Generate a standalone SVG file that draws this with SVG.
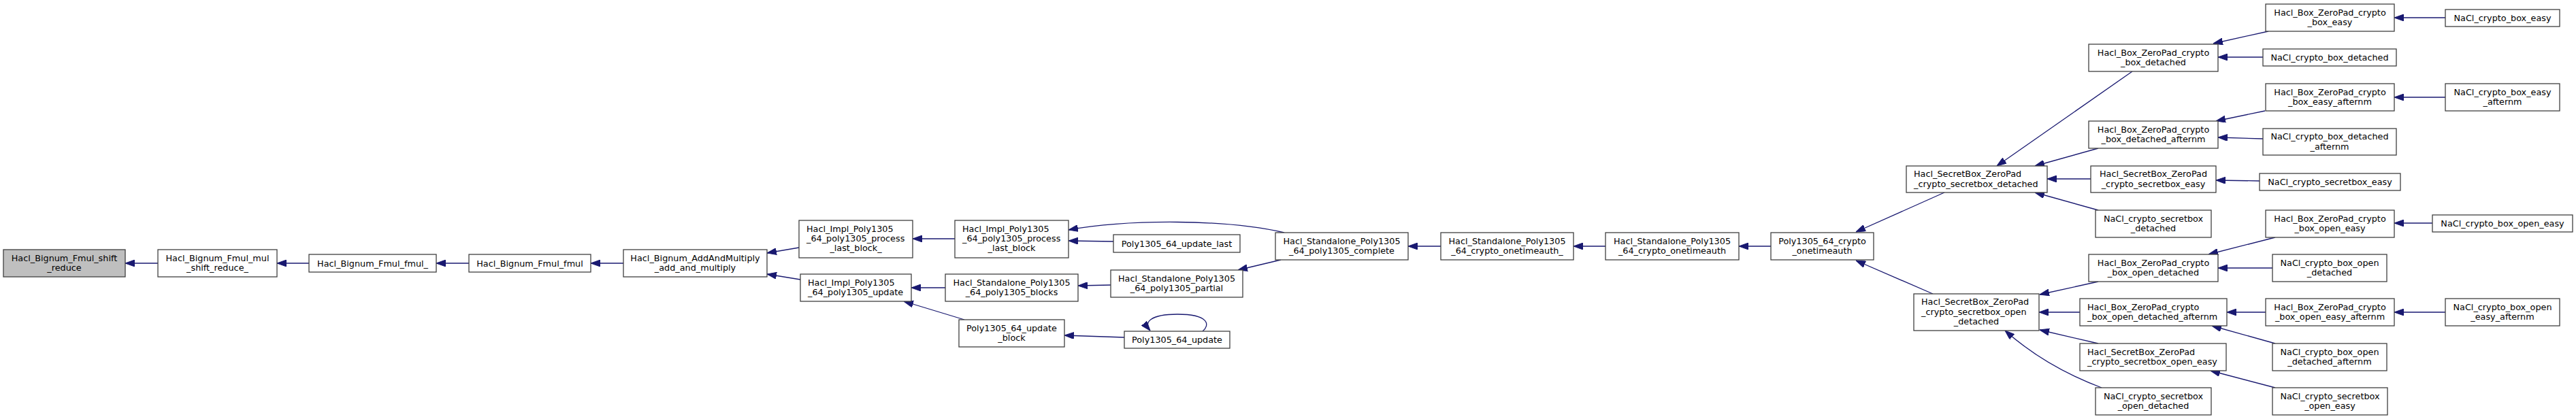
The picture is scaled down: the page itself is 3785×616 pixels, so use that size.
<svg xmlns="http://www.w3.org/2000/svg" width="3785" height="616" viewBox="0 0 3785 616">
<style>
.n rect{fill:#fff;stroke:#404040;stroke-width:1.3}
.root rect{fill:#bfbfbf}
text{font-family:"DejaVu Sans","Noto Sans",sans-serif;font-size:12.8px;fill:#000;text-anchor:middle}
text.l{text-anchor:start}
.e path{fill:none;stroke:#191970;stroke-width:1.3;marker-end:url(#a)}
</style>
<defs>
<marker id="a" markerUnits="userSpaceOnUse" viewBox="0 -5 14 10" refX="14" refY="0" markerWidth="14" markerHeight="10" orient="auto"><path d="M0,-5L14,0L0,5z" fill="#191970" stroke="#191970" stroke-width="1"/></marker>
</defs>
<rect width="3785" height="616" fill="#fff"/>
<g id="edges" class="e">
<path d="M232,387L184,387"/>
<path d="M454,387L407,387"/>
<path d="M689,387L641,387"/>
<path d="M916,387L868,387"/>
<path d="M1174,364L1127,372"/>
<path d="M1176,411L1127,403"/>
<path d="M1403,351L1341,351"/>
<path d="M1389,423L1339,423"/>
<path d="M1636,355L1570,354"/>
<path d="M1632,419L1584,420"/>
<path d="M1417,470L1328,443"/>
<path d="M1652,496L1564,493"/>
<path d="M1767,487C1778,478 1777,462 1730,462C1690,462 1680,474 1690,486"/>
<path d="M1887,342C1800,322 1660,322 1570,338"/>
<path d="M1882,382L1819,397"/>
<path d="M2117,362L2069,362"/>
<path d="M2359,362L2312,362"/>
<path d="M2602,362L2555,362"/>
<path d="M2857,283L2727,341"/>
<path d="M2840,432L2727,383"/>
<path d="M3133,105L2934,244"/>
<path d="M3083,218L2990,244"/>
<path d="M3072,263L3008,263"/>
<path d="M3083,309L2990,283"/>
<path d="M3083,414L2997,433"/>
<path d="M3056,459L2996,459"/>
<path d="M3083,505L2997,485"/>
<path d="M3088,570C3040,552 2990,525 2946,486"/>
<path d="M3333,46L3252,64"/>
<path d="M3325,84L3259,84"/>
<path d="M3328,163L3256,178"/>
<path d="M3325,204L3259,202"/>
<path d="M3320,266L3256,265"/>
<path d="M3343,349L3245,374"/>
<path d="M3339,394L3259,394"/>
<path d="M3329,459L3272,459"/>
<path d="M3343,505L3250,479"/>
<path d="M3343,570L3248,545"/>
<path d="M3593,26L3518,26"/>
<path d="M3593,143L3518,143"/>
<path d="M3574,328L3518,328"/>
<path d="M3593,459L3518,459"/>
</g>
<g id="n1" class="n root"><rect x="5" y="367" width="179" height="40"/><text x="94.5" y="383.7">Hacl_Bignum_Fmul_shift</text><text x="94.5" y="398">_reduce</text></g>
<g id="n2" class="n"><rect x="232" y="367" width="175" height="40"/><text x="319.5" y="383.7">Hacl_Bignum_Fmul_mul</text><text x="319.5" y="398">_shift_reduce_</text></g>
<g id="n3" class="n"><rect x="454" y="374" width="187" height="26"/><text x="547.5" y="391.7">Hacl_Bignum_Fmul_fmul_</text></g>
<g id="n4" class="n"><rect x="689" y="374" width="179" height="26"/><text x="778.5" y="391.7">Hacl_Bignum_Fmul_fmul</text></g>
<g id="n5" class="n"><rect x="916" y="367" width="211" height="40"/><text x="1021.5" y="383.7">Hacl_Bignum_AddAndMultiply</text><text x="1021.5" y="398">_add_and_multiply</text></g>
<g id="n6" class="n"><rect x="1174" y="324" width="167" height="55"/><text class="l" x="1185" y="340.7">Hacl_Impl_Poly1305</text><text class="l" x="1185" y="355">_64_poly1305_process</text><text x="1257.5" y="369">_last_block_</text></g>
<g id="n7" class="n"><rect x="1176" y="403" width="163" height="40"/><text class="l" x="1187" y="419.7">Hacl_Impl_Poly1305</text><text class="l" x="1187" y="434">_64_poly1305_update</text></g>
<g id="n8" class="n"><rect x="1403" y="324" width="167" height="55"/><text class="l" x="1414" y="340.7">Hacl_Impl_Poly1305</text><text class="l" x="1414" y="355">_64_poly1305_process</text><text x="1486.5" y="369">_last_block</text></g>
<g id="n9" class="n"><rect x="1636" y="345" width="186" height="26"/><text x="1729" y="362.7">Poly1305_64_update_last</text></g>
<g id="n10" class="n"><rect x="1389" y="403" width="195" height="40"/><text x="1486.5" y="419.7">Hacl_Standalone_Poly1305</text><text x="1486.5" y="434">_64_poly1305_blocks</text></g>
<g id="n11" class="n"><rect x="1632" y="397" width="194" height="40"/><text x="1729" y="413.7">Hacl_Standalone_Poly1305</text><text x="1729" y="428">_64_poly1305_partial</text></g>
<g id="n12" class="n"><rect x="1409" y="470" width="155" height="40"/><text x="1486.5" y="486.7">Poly1305_64_update</text><text x="1486.5" y="501">_block</text></g>
<g id="n13" class="n"><rect x="1652" y="487" width="155" height="25"/><text x="1729.5" y="504.2">Poly1305_64_update</text></g>
<g id="n14" class="n"><rect x="1874" y="342" width="195" height="40"/><text x="1971.5" y="358.7">Hacl_Standalone_Poly1305</text><text x="1971.5" y="373">_64_poly1305_complete</text></g>
<g id="n15" class="n"><rect x="2117" y="342" width="195" height="40"/><text x="2214.5" y="358.7">Hacl_Standalone_Poly1305</text><text x="2214.5" y="373">_64_crypto_onetimeauth_</text></g>
<g id="n16" class="n"><rect x="2359" y="342" width="196" height="40"/><text x="2457" y="358.7">Hacl_Standalone_Poly1305</text><text x="2457" y="373">_64_crypto_onetimeauth</text></g>
<g id="n17" class="n"><rect x="2602" y="342" width="151" height="40"/><text x="2677.5" y="358.7">Poly1305_64_crypto</text><text x="2677.5" y="373">_onetimeauth</text></g>
<g id="n18" class="n"><rect x="2801" y="244" width="207" height="39"/><text class="l" x="2812" y="260.2">Hacl_SecretBox_ZeroPad</text><text class="l" x="2812" y="274.5">_crypto_secretbox_detached</text></g>
<g id="n19" class="n"><rect x="2812" y="432" width="184" height="54"/><text class="l" x="2823" y="448.2">Hacl_SecretBox_ZeroPad</text><text class="l" x="2823" y="462.5">_crypto_secretbox_open</text><text x="2904" y="476.5">_detached</text></g>
<g id="n20" class="n"><rect x="3069" y="65" width="190" height="40"/><text x="3164" y="81.7">Hacl_Box_ZeroPad_crypto</text><text x="3164" y="96">_box_detached</text></g>
<g id="n21" class="n"><rect x="3069" y="178" width="190" height="40"/><text x="3164" y="194.7">Hacl_Box_ZeroPad_crypto</text><text x="3164" y="209">_box_detached_afternm</text></g>
<g id="n22" class="n"><rect x="3072" y="244" width="184" height="39"/><text x="3164" y="260.2">Hacl_SecretBox_ZeroPad</text><text x="3164" y="274.5">_crypto_secretbox_easy</text></g>
<g id="n23" class="n"><rect x="3079" y="309" width="170" height="40"/><text x="3164" y="325.7">NaCl_crypto_secretbox</text><text x="3164" y="340">_detached</text></g>
<g id="n24" class="n"><rect x="3069" y="374" width="190" height="40"/><text x="3164" y="390.7">Hacl_Box_ZeroPad_crypto</text><text x="3164" y="405">_box_open_detached</text></g>
<g id="n25" class="n"><rect x="3056" y="439" width="216" height="40"/><text class="l" x="3067" y="455.7">Hacl_Box_ZeroPad_crypto</text><text class="l" x="3067" y="470">_box_open_detached_afternm</text></g>
<g id="n26" class="n"><rect x="3056" y="505" width="215" height="40"/><text class="l" x="3067" y="521.7">Hacl_SecretBox_ZeroPad</text><text class="l" x="3067" y="536">_crypto_secretbox_open_easy</text></g>
<g id="n27" class="n"><rect x="3079" y="570" width="170" height="40"/><text x="3164" y="586.7">NaCl_crypto_secretbox</text><text x="3164" y="601">_open_detached</text></g>
<g id="n28" class="n"><rect x="3329" y="6" width="189" height="40"/><text x="3423.5" y="22.7">Hacl_Box_ZeroPad_crypto</text><text x="3423.5" y="37">_box_easy</text></g>
<g id="n29" class="n"><rect x="3593" y="14" width="168" height="25"/><text x="3677" y="31.2">NaCl_crypto_box_easy</text></g>
<g id="n30" class="n"><rect x="3325" y="72" width="196" height="25"/><text x="3423" y="89.2">NaCl_crypto_box_detached</text></g>
<g id="n31" class="n"><rect x="3329" y="123" width="189" height="40"/><text x="3423.5" y="139.7">Hacl_Box_ZeroPad_crypto</text><text x="3423.5" y="154">_box_easy_afternm</text></g>
<g id="n32" class="n"><rect x="3593" y="123" width="168" height="40"/><text x="3677" y="139.7">NaCl_crypto_box_easy</text><text x="3677" y="154">_afternm</text></g>
<g id="n33" class="n"><rect x="3325" y="189" width="196" height="39"/><text x="3423" y="205.2">NaCl_crypto_box_detached</text><text x="3423" y="219.5">_afternm</text></g>
<g id="n34" class="n"><rect x="3320" y="255" width="207" height="25"/><text x="3423.5" y="272.2">NaCl_crypto_secretbox_easy</text></g>
<g id="n35" class="n"><rect x="3329" y="309" width="189" height="40"/><text x="3423.5" y="325.7">Hacl_Box_ZeroPad_crypto</text><text x="3423.5" y="340">_box_open_easy</text></g>
<g id="n36" class="n"><rect x="3574" y="316" width="206" height="25"/><text x="3677" y="333.2">NaCl_crypto_box_open_easy</text></g>
<g id="n37" class="n"><rect x="3339" y="374" width="168" height="40"/><text x="3423" y="390.7">NaCl_crypto_box_open</text><text x="3423" y="405">_detached</text></g>
<g id="n38" class="n"><rect x="3329" y="439" width="189" height="40"/><text x="3423.5" y="455.7">Hacl_Box_ZeroPad_crypto</text><text x="3423.5" y="470">_box_open_easy_afternm</text></g>
<g id="n39" class="n"><rect x="3593" y="439" width="168" height="40"/><text x="3677" y="455.7">NaCl_crypto_box_open</text><text x="3677" y="470">_easy_afternm</text></g>
<g id="n40" class="n"><rect x="3339" y="505" width="168" height="40"/><text x="3423" y="521.7">NaCl_crypto_box_open</text><text x="3423" y="536">_detached_afternm</text></g>
<g id="n41" class="n"><rect x="3339" y="570" width="169" height="40"/><text x="3423.5" y="586.7">NaCl_crypto_secretbox</text><text x="3423.5" y="601">_open_easy</text></g>
</svg>
